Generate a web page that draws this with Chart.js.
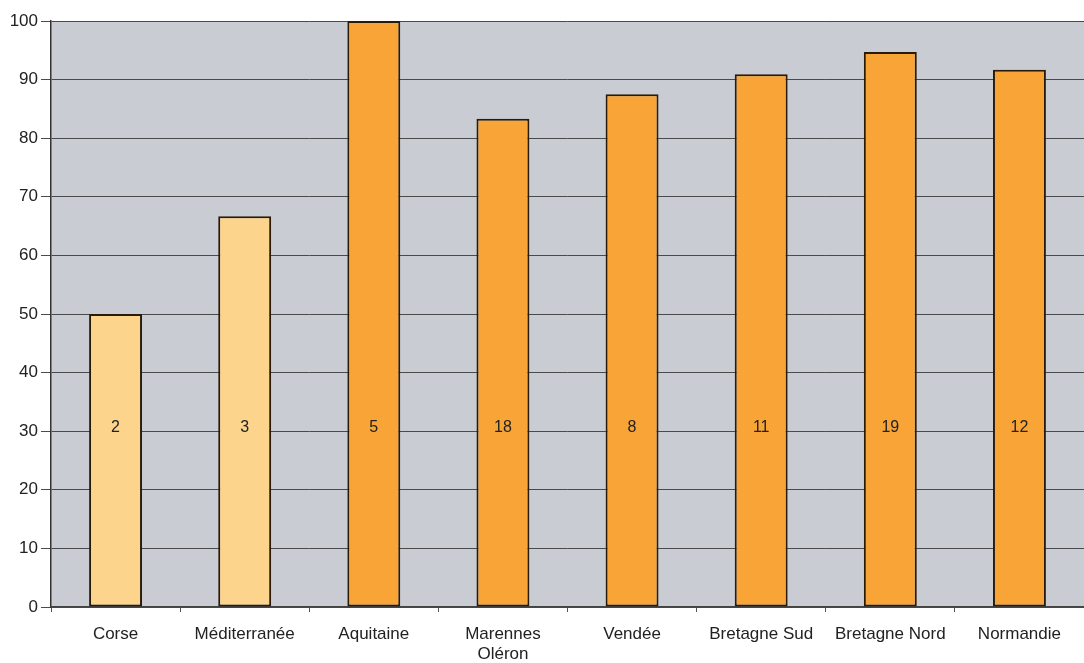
<!DOCTYPE html>
<html>
<head>
<meta charset="utf-8">
<script src="https://cdn.jsdelivr.net/npm/chart.js@4/dist/chart.umd.min.js"></script>
<style>
  html, body { margin: 0; padding: 0; background: #fff; }
  #wrap { width: 1084px; height: 663px; }
</style>
</head>
<body>
<div id="wrap"><canvas id="chart"></canvas></div>
<script>
// Sites de la façade et pourcentage par site
const categories = ["Corse", "Méditerranée", "Aquitaine", ["Marennes", "Oléron"], "Vendée", "Bretagne Sud", "Bretagne Nord", "Normandie"];
const percentages = [50, 66.7, 100, 83.3, 87.5, 90.9, 94.7, 91.7];
const counts = [2, 3, 5, 18, 8, 11, 19, 12];
const barColors = ["#fdd48c", "#fdd48c", "#f8a436", "#f8a436", "#f8a436", "#f8a436", "#f8a436", "#f8a436"];
const yTicks = [0, 10, 20, 30, 40, 50, 60, 70, 80, 90, 100];

const fontFamily = "'Liberation Sans', Arial, sans-serif";

// gray fill behind the plot area
const plotBackground = {
  id: 'plotBackground',
  beforeDraw(chart) {
    const { ctx, chartArea: a } = chart;
    ctx.save();
    ctx.fillStyle = '#c9ccd3';
    ctx.fillRect(a.left, a.top, a.right - a.left, a.bottom - a.top);
    ctx.restore();
  }
};

// counts written inside each bar, at the 31 level
const countLabels = {
  id: 'countLabels',
  afterDatasetsDraw(chart) {
    const { ctx } = chart;
    const meta = chart.getDatasetMeta(0);
    const y = chart.scales.y.getPixelForValue(30.6);
    ctx.save();
    ctx.fillStyle = '#222';
    ctx.font = '16px ' + fontFamily;
    ctx.textAlign = 'center';
    ctx.textBaseline = 'middle';
    meta.data.forEach((bar, i) => {
      ctx.fillText(String(counts[i]), bar.x, y);
    });
    ctx.restore();
  }
};

new Chart(document.getElementById('chart'), {
  type: 'bar',
  data: {
    labels: categories,
    datasets: [{
      data: percentages,
      backgroundColor: barColors,
      borderColor: '#2a1a0a',
      borderWidth: 2,
      borderSkipped: false,
      barPercentage: 0.41,
      categoryPercentage: 1
    }]
  },
  options: {
    responsive: true,
    maintainAspectRatio: false,
    animation: false,
    layout: { padding: { top: 21, right: 0, left: 0, bottom: 0 } },
    plugins: {
      legend: { display: false },
      tooltip: { enabled: false }
    },
    scales: {
      x: {
        offset: true,
        grid: {
          offset: true,
          drawOnChartArea: false,
          drawTicks: true,
          tickLength: 5,
          color: '#555'
        },
        border: { display: true, color: '#444', width: 1.5 },
        ticks: {
          color: '#222',
          font: { family: fontFamily, size: 17, lineHeight: 1.2 },
          maxRotation: 0,
          autoSkip: false,
          padding: 12
        },
        afterFit(scale) { scale.height = 56; }
      },
      y: {
        min: 0,
        max: 100,
        afterBuildTicks(scale) { scale.ticks = yTicks.map(v => ({ value: v })); },
        grid: {
          color: '#4a4a4a',
          lineWidth: 1,
          tickLength: 10,
          drawTicks: true
        },
        border: { display: true, color: '#333', width: 1.5 },
        ticks: {
          color: '#222',
          font: { family: fontFamily, size: 17 },
          padding: 3
        },
        afterFit(scale) { scale.width = 51; }
      }
    }
  },
  plugins: [plotBackground, countLabels]
});
</script>
</body>
</html>
